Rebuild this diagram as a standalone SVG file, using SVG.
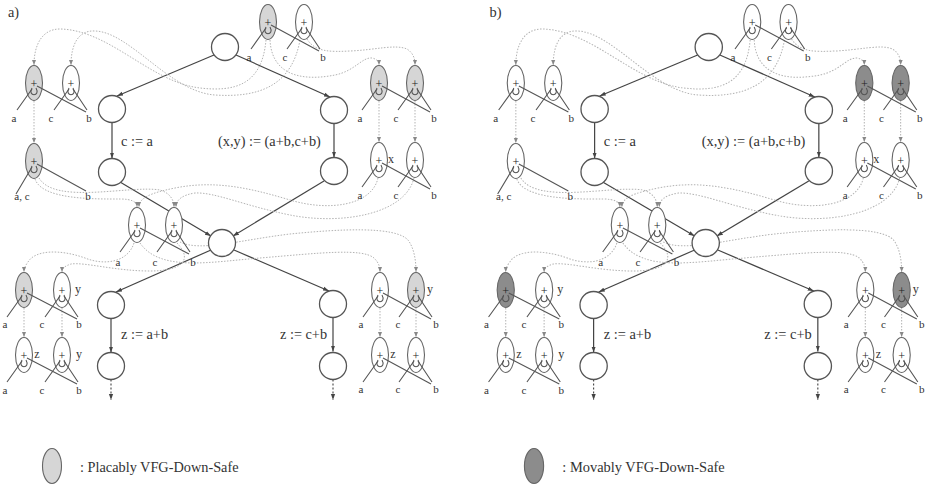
<svg xmlns="http://www.w3.org/2000/svg" xmlns:xlink="http://www.w3.org/1999/xlink" width="926" height="487" viewBox="0 0 926 487">
<style>
text{font-family:"Liberation Serif","Times New Roman",serif;fill:#333}
.t{font-size:14.3px}
.s{font-size:11px;text-anchor:middle}
.v{font-size:12px;text-anchor:middle}
.p{font-size:12px;text-anchor:middle}
.fc{fill:#fff;stroke:#555;stroke-width:1.3}
.fe{stroke:#444;stroke-width:1.2;fill:none;marker-end:url(#af)}
.fd{stroke:#444;stroke-width:1.1;stroke-dasharray:2 2;fill:none;marker-end:url(#af)}
.ve{stroke:#b3b3b3;stroke-width:1;stroke-dasharray:1.5 1.5;fill:none;marker-end:url(#ad)}
.op{stroke:#555;stroke-width:1.1;fill:none}
.e{stroke:#666;stroke-width:1.1}
.w{fill:#fff}.l{fill:#d6d6d6}.d{fill:#8c8c8c}
</style>
<defs>
<marker id="af" viewBox="0 0 10 10" refX="10" refY="5" markerWidth="6" markerHeight="6" markerUnits="userSpaceOnUse" orient="auto"><path d="M0,1.5 L10,5 L0,8.5z" fill="#444"/></marker>
<marker id="ad" viewBox="0 0 10 10" refX="10" refY="5" markerWidth="5" markerHeight="5" markerUnits="userSpaceOnUse" orient="auto"><path d="M0,1 L10,5 L0,9z" fill="#888"/></marker>
<g id="vn"><ellipse class="e" rx="8.5" ry="17.5"/><text class="p" y="4.5" fill="#222" style="fill:#222">+</text><path class="op" d="M-2,5 C-7,14 7,14 2,5"/></g>
</defs>
<rect width="926" height="487" fill="#fff"/>

<g id="panel-a">
<text class="t" x="8" y="17">a)</text>
<g id="a-connectors">
<path class="fe" d="M214,55 L117,96"/>
<path class="fe" d="M236,55 L330,97"/>
<path class="fe" d="M112,122.5 L112,158.5"/>
<path class="fe" d="M334,123.5 L334,157.5"/>
<path class="fe" d="M120,182 L211,236"/>
<path class="fe" d="M324,181 L233,236"/>
<path class="fe" d="M211,250 L116,292"/>
<path class="fe" d="M234,250 L329,291"/>
<path class="fe" d="M111,318.5 L111,352.5"/>
<path class="fe" d="M333,317.5 L333,351.5"/>
<path class="fd" d="M111,379.5 L111,400"/>
<path class="fd" d="M333,379.5 L333,400"/>
<path class="ve" d="M266,40 C262,85 235,92 200,88 C150,82 110,30 60,29 C42,29 34,45 34,65"/>
<path class="ve" d="M300,40 C292,85 260,98 215,95 C170,92 130,32 95,31 C78,30 71,45 71,65"/>
<path class="ve" d="M270,40 C272,80 310,80 335,75 C355,71 362,57 372,58 C377,59 379,62 379,65"/>
<path class="ve" d="M307,39 C315,52 330,52 350,51 C375,50 395,44 407,49 C413,53 415,58 415,65"/>
<path class="ve" d="M34,101 L34,143"/>
<path class="ve" d="M379,101 L379,142"/>
<path class="ve" d="M415,101 L415,142"/>
<path class="ve" d="M35,179 C42,200 95,199 120,199 C132,199 137,202 137,207"/>
<path class="ve" d="M39,178 C55,205 130,185 160,190 C170,193 174,200 174,207"/>
<path class="ve" d="M378,178 C372,205 330,212 290,200 C250,188 215,180 175,188 C150,193 139,198 139,207"/>
<path class="ve" d="M414,178 C405,215 340,225 290,215 C245,206 215,192 195,193 C182,195 176,200 176,207"/>
<path class="ve" d="M134,243 C128,262 105,266 85,258 C60,249 35,250 28,262 C25,266 24,269 24,272"/>
<path class="ve" d="M177,243 C195,262 178,271 150,271 C115,271 85,262 71,264 C65,266 62,268 62,272"/>
<path class="ve" d="M140,243 C160,272 210,262 260,258 C320,253 362,248 374,258 C379,263 380,267 380,272"/>
<path class="ve" d="M180,242 C200,252 240,240 290,234 C340,229 395,226 408,240 C414,248 416,260 416,272"/>
<path class="ve" d="M24,308 L24,337"/>
<path class="ve" d="M62,308 L62,337"/>
<path class="ve" d="M380,308 L380,337"/>
<path class="ve" d="M416,308 L416,337"/>
</g>
<g id="a-n1"><circle class="fc" cx="225" cy="47" r="13.5"/></g>
<g id="a-n2"><circle class="fc" cx="112" cy="109" r="13.5"/></g>
<g id="a-n3"><circle class="fc" cx="112" cy="172" r="13.5"/></g>
<g id="a-n4"><circle class="fc" cx="334" cy="110" r="13.5"/></g>
<g id="a-n5"><circle class="fc" cx="334" cy="171" r="13.5"/></g>
<g id="a-n6"><circle class="fc" cx="222" cy="243" r="13.5"/></g>
<g id="a-n7"><circle class="fc" cx="111" cy="305" r="13.5"/></g>
<g id="a-n8"><circle class="fc" cx="111" cy="366" r="13.5"/></g>
<g id="a-n9"><circle class="fc" cx="333" cy="304" r="13.5"/></g>
<g id="a-n10"><circle class="fc" cx="333" cy="366" r="13.5"/></g>
<text class="t" x="121" y="146">c := a</text>
<text class="t" x="218" y="146">(x,y) := (a+b,c+b)</text>
<text class="t" x="121" y="339">z := a+b</text>
<text class="t" x="280" y="339">z := c+b</text>

<g id="a-top">
<use href="#vn" x="268" y="22" class="l"/><use href="#vn" x="304" y="22" class="w"/>
<path class="op" d="M266,28 L251,49 M271,25 L319,51 M302,28 L287,49 M306,28 L320,49"/>
<text class="s" x="249" y="61">a</text><text class="s" x="285" y="61">c</text><text class="s" x="323" y="61">b</text>
</g>
<g id="a-tl">
<use href="#vn" x="34" y="83" class="l"/><use href="#vn" x="71" y="83" class="w"/>
<path class="op" d="M32,89 L17,110 M37,86 L86,112 M69,89 L54,110 M73,89 L87,110"/>
<text class="s" x="14" y="122">a</text><text class="s" x="51" y="122">c</text><text class="s" x="89" y="122">b</text>
</g>
<g id="a-l2">
<use href="#vn" x="34" y="161" class="l"/>
<path class="op" d="M32,167 L16,194 M37,164 L86,191"/>
<text class="s" x="22" y="200">a, c</text><text class="s" x="88" y="200">b</text>
</g>
<g id="a-tr">
<use href="#vn" x="379" y="83" class="l"/><use href="#vn" x="415" y="83" class="l"/>
<path class="op" d="M377,89 L362,110 M382,86 L430,112 M413,89 L398,110 M417,89 L431,110"/>
<text class="s" x="360" y="122">a</text><text class="s" x="396" y="122">c</text><text class="s" x="434" y="122">b</text>
</g>
<g id="a-r2">
<use href="#vn" x="379" y="160" class="w"/><use href="#vn" x="415" y="160" class="w"/>
<path class="op" d="M377,166 L362,187 M382,163 L430,189 M413,166 L398,187 M417,166 L431,187"/>
<text class="v" x="391" y="163">x</text>
<text class="s" x="360" y="199">a</text><text class="s" x="396" y="199">c</text><text class="s" x="434" y="199">b</text>
</g>
<g id="a-mid">
<use href="#vn" x="137" y="225" class="w"/><use href="#vn" x="174" y="225" class="w"/>
<path class="op" d="M135,231 L120,252 M140,228 L189,254 M172,231 L157,252 M176,231 L190,252"/>
<text class="s" x="118" y="266">a</text><text class="s" x="155" y="266">c</text><text class="s" x="193" y="266">b</text>
</g>
<g id="a-l3">
<use href="#vn" x="24" y="290" class="l"/><use href="#vn" x="62" y="290" class="w"/>
<path class="op" d="M22,296 L7,317 M27,293 L77,319 M60,296 L45,317 M64,296 L78,317"/>
<text class="v" x="78" y="293">y</text>
<text class="s" x="5" y="328">a</text><text class="s" x="42" y="328">c</text><text class="s" x="79" y="328">b</text>
</g>
<g id="a-l4">
<use href="#vn" x="24" y="355" class="w"/><use href="#vn" x="62" y="355" class="w"/>
<path class="op" d="M22,361 L7,382 M27,358 L77,384 M60,361 L45,382 M64,361 L78,382"/>
<text class="v" x="37" y="358">z</text><text class="v" x="79" y="358">y</text>
<text class="s" x="5" y="394">a</text><text class="s" x="42" y="394">c</text><text class="s" x="79" y="394">b</text>
</g>
<g id="a-r3">
<use href="#vn" x="380" y="290" class="w"/><use href="#vn" x="416" y="290" class="l"/>
<path class="op" d="M378,296 L363,317 M383,293 L431,319 M414,296 L399,317 M418,296 L432,317"/>
<text class="v" x="430" y="293">y</text>
<text class="s" x="361" y="328">a</text><text class="s" x="398" y="328">c</text><text class="s" x="436" y="328">b</text>
</g>
<g id="a-r4">
<use href="#vn" x="380" y="355" class="w"/><use href="#vn" x="416" y="355" class="w"/>
<path class="op" d="M378,361 L363,382 M383,358 L431,384 M414,361 L399,382 M418,361 L432,382"/>
<text class="v" x="393" y="358">z</text>
<text class="s" x="361" y="393">a</text><text class="s" x="398" y="393">c</text><text class="s" x="436" y="393">b</text>
</g>
<g id="a-legend">
<ellipse class="e l" cx="52" cy="466" rx="9.5" ry="17.5"/>
<text class="t" x="80" y="472">: Placably VFG-Down-Safe</text>
</g>
</g>

<g id="panel-b" transform="translate(481.5,0) scale(1.01,1)">
<text class="t" x="8" y="17">b)</text>
<g id="b-connectors">
<path class="fe" d="M214,55 L117,96"/>
<path class="fe" d="M236,55 L330,97"/>
<path class="fe" d="M112,122.5 L112,158.5"/>
<path class="fe" d="M334,123.5 L334,157.5"/>
<path class="fe" d="M120,182 L211,236"/>
<path class="fe" d="M324,181 L233,236"/>
<path class="fe" d="M211,250 L116,292"/>
<path class="fe" d="M234,250 L329,291"/>
<path class="fe" d="M111,318.5 L111,352.5"/>
<path class="fe" d="M333,317.5 L333,351.5"/>
<path class="fd" d="M111,379.5 L111,400"/>
<path class="fd" d="M333,379.5 L333,400"/>
<path class="ve" d="M266,40 C262,85 235,92 200,88 C150,82 110,30 60,29 C42,29 34,45 34,65"/>
<path class="ve" d="M300,40 C292,85 260,98 215,95 C170,92 130,32 95,31 C78,30 71,45 71,65"/>
<path class="ve" d="M270,40 C272,80 310,80 335,75 C355,71 362,57 372,58 C377,59 379,62 379,65"/>
<path class="ve" d="M307,39 C315,52 330,52 350,51 C375,50 395,44 407,49 C413,53 415,58 415,65"/>
<path class="ve" d="M34,101 L34,143"/>
<path class="ve" d="M379,101 L379,142"/>
<path class="ve" d="M415,101 L415,142"/>
<path class="ve" d="M35,179 C42,200 95,199 120,199 C132,199 137,202 137,207"/>
<path class="ve" d="M39,178 C55,205 130,185 160,190 C170,193 174,200 174,207"/>
<path class="ve" d="M378,178 C372,205 330,212 290,200 C250,188 215,180 175,188 C150,193 139,198 139,207"/>
<path class="ve" d="M414,178 C405,215 340,225 290,215 C245,206 215,192 195,193 C182,195 176,200 176,207"/>
<path class="ve" d="M134,243 C128,262 105,266 85,258 C60,249 35,250 28,262 C25,266 24,269 24,272"/>
<path class="ve" d="M177,243 C195,262 178,271 150,271 C115,271 85,262 71,264 C65,266 62,268 62,272"/>
<path class="ve" d="M140,243 C160,272 210,262 260,258 C320,253 362,248 374,258 C379,263 380,267 380,272"/>
<path class="ve" d="M180,242 C200,252 240,240 290,234 C340,229 395,226 408,240 C414,248 416,260 416,272"/>
<path class="ve" d="M24,308 L24,337"/>
<path class="ve" d="M62,308 L62,337"/>
<path class="ve" d="M380,308 L380,337"/>
<path class="ve" d="M416,308 L416,337"/>
</g>
<g id="b-n1"><circle class="fc" cx="225" cy="47" r="13.5"/></g>
<g id="b-n2"><circle class="fc" cx="112" cy="109" r="13.5"/></g>
<g id="b-n3"><circle class="fc" cx="112" cy="172" r="13.5"/></g>
<g id="b-n4"><circle class="fc" cx="334" cy="110" r="13.5"/></g>
<g id="b-n5"><circle class="fc" cx="334" cy="171" r="13.5"/></g>
<g id="b-n6"><circle class="fc" cx="222" cy="243" r="13.5"/></g>
<g id="b-n7"><circle class="fc" cx="111" cy="305" r="13.5"/></g>
<g id="b-n8"><circle class="fc" cx="111" cy="366" r="13.5"/></g>
<g id="b-n9"><circle class="fc" cx="333" cy="304" r="13.5"/></g>
<g id="b-n10"><circle class="fc" cx="333" cy="366" r="13.5"/></g>
<text class="t" x="121" y="146">c := a</text>
<text class="t" x="218" y="146">(x,y) := (a+b,c+b)</text>
<text class="t" x="121" y="339">z := a+b</text>
<text class="t" x="280" y="339">z := c+b</text>

<g id="b-top">
<use href="#vn" x="268" y="22" class="w"/><use href="#vn" x="304" y="22" class="w"/>
<path class="op" d="M266,28 L251,49 M271,25 L319,51 M302,28 L287,49 M306,28 L320,49"/>
<text class="s" x="249" y="61">a</text><text class="s" x="285" y="61">c</text><text class="s" x="323" y="61">b</text>
</g>
<g id="b-tl">
<use href="#vn" x="34" y="83" class="w"/><use href="#vn" x="71" y="83" class="w"/>
<path class="op" d="M32,89 L17,110 M37,86 L86,112 M69,89 L54,110 M73,89 L87,110"/>
<text class="s" x="14" y="122">a</text><text class="s" x="51" y="122">c</text><text class="s" x="89" y="122">b</text>
</g>
<g id="b-l2">
<use href="#vn" x="34" y="161" class="w"/>
<path class="op" d="M32,167 L16,194 M37,164 L86,191"/>
<text class="s" x="22" y="200">a, c</text><text class="s" x="88" y="200">b</text>
</g>
<g id="b-tr">
<use href="#vn" x="379" y="83" class="d"/><use href="#vn" x="415" y="83" class="d"/>
<path class="op" d="M377,89 L362,110 M382,86 L430,112 M413,89 L398,110 M417,89 L431,110"/>
<text class="s" x="360" y="122">a</text><text class="s" x="396" y="122">c</text><text class="s" x="434" y="122">b</text>
</g>
<g id="b-r2">
<use href="#vn" x="379" y="160" class="w"/><use href="#vn" x="415" y="160" class="w"/>
<path class="op" d="M377,166 L362,187 M382,163 L430,189 M413,166 L398,187 M417,166 L431,187"/>
<text class="v" x="391" y="163">x</text>
<text class="s" x="360" y="199">a</text><text class="s" x="396" y="199">c</text><text class="s" x="434" y="199">b</text>
</g>
<g id="b-mid">
<use href="#vn" x="137" y="225" class="w"/><use href="#vn" x="174" y="225" class="w"/>
<path class="op" d="M135,231 L120,252 M140,228 L189,254 M172,231 L157,252 M176,231 L190,252"/>
<text class="s" x="118" y="266">a</text><text class="s" x="155" y="266">c</text><text class="s" x="193" y="266">b</text>
</g>
<g id="b-l3">
<use href="#vn" x="24" y="290" class="d"/><use href="#vn" x="62" y="290" class="w"/>
<path class="op" d="M22,296 L7,317 M27,293 L77,319 M60,296 L45,317 M64,296 L78,317"/>
<text class="v" x="78" y="293">y</text>
<text class="s" x="5" y="328">a</text><text class="s" x="42" y="328">c</text><text class="s" x="79" y="328">b</text>
</g>
<g id="b-l4">
<use href="#vn" x="24" y="355" class="w"/><use href="#vn" x="62" y="355" class="w"/>
<path class="op" d="M22,361 L7,382 M27,358 L77,384 M60,361 L45,382 M64,361 L78,382"/>
<text class="v" x="37" y="358">z</text><text class="v" x="79" y="358">y</text>
<text class="s" x="5" y="394">a</text><text class="s" x="42" y="394">c</text><text class="s" x="79" y="394">b</text>
</g>
<g id="b-r3">
<use href="#vn" x="380" y="290" class="w"/><use href="#vn" x="416" y="290" class="d"/>
<path class="op" d="M378,296 L363,317 M383,293 L431,319 M414,296 L399,317 M418,296 L432,317"/>
<text class="v" x="430" y="293">y</text>
<text class="s" x="361" y="328">a</text><text class="s" x="398" y="328">c</text><text class="s" x="436" y="328">b</text>
</g>
<g id="b-r4">
<use href="#vn" x="380" y="355" class="w"/><use href="#vn" x="416" y="355" class="w"/>
<path class="op" d="M378,361 L363,382 M383,358 L431,384 M414,361 L399,382 M418,361 L432,382"/>
<text class="v" x="393" y="358">z</text>
<text class="s" x="361" y="393">a</text><text class="s" x="398" y="393">c</text><text class="s" x="436" y="393">b</text>
</g>
<g id="b-legend">
<ellipse class="e d" cx="52" cy="466" rx="9.5" ry="17.5"/>
<text class="t" x="80" y="472">: Movably VFG-Down-Safe</text>
</g>
</g>
</svg>
